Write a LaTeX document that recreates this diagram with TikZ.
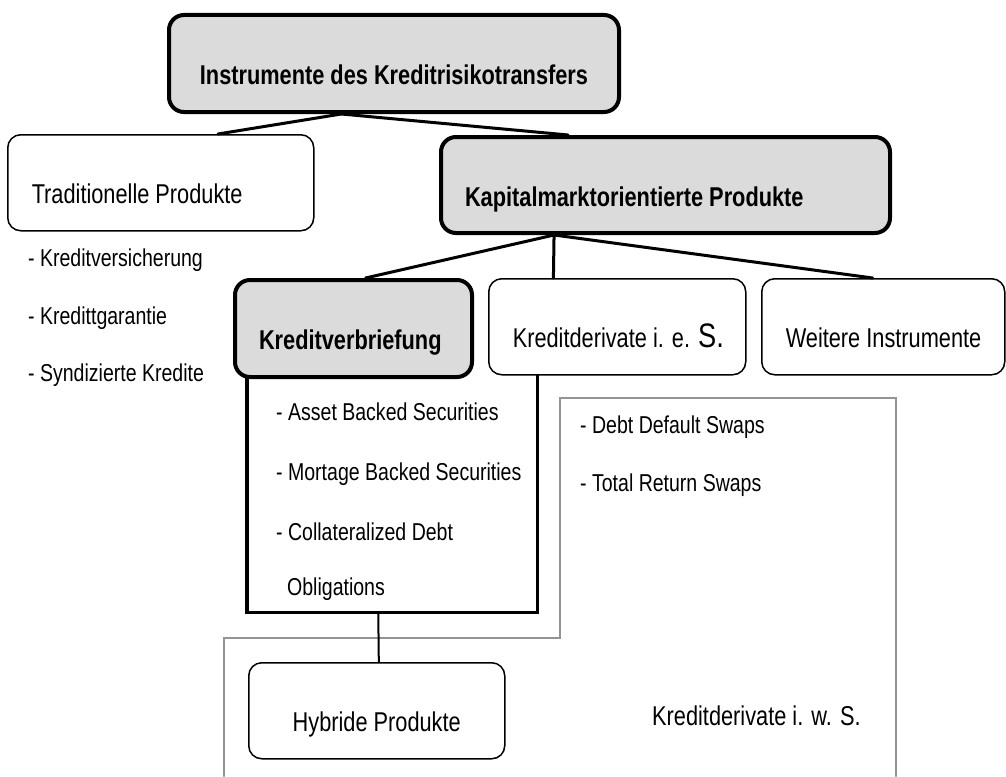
\documentclass[tikz,border=0pt]{standalone}
\usepackage{fontspec}
\setmainfont{Liberation Sans}[FakeStretch=0.8]
\usepackage{tikz}
\usetikzlibrary{calc}
\definecolor{boxgray}{rgb}{0.86,0.86,0.86}
\definecolor{framegray}{rgb}{0.58,0.58,0.58}
\newcommand{\lefttext}[2]{\makebox[#1][l]{#2}}

\tikzset{
  headbox/.style={draw, line width=4pt, rounded corners=15pt, fill=boxgray,
    font=\fontsize{27.2}{32}\selectfont\bfseries, text height=42pt, text depth=0pt,
    inner xsep=24pt, anchor=north west},
  plainbox/.style={draw, line width=1.5pt, rounded corners=13pt, fill=white,
    font=\fontsize{27.2}{32}\selectfont, text height=42pt, text depth=0pt,
    inner xsep=24pt, anchor=north west},
  listitem/.style={font=\fontsize{24.4}{29}\selectfont, text height=17.5pt, text depth=0pt,
    inner sep=0pt, anchor=west},
  link/.style={line width=3pt},
}

\begin{document}
\begin{tikzpicture}[line cap=round, line join=round, x=1pt, y=-1pt]
  \useasboundingbox (0,0) rectangle (1006,776);
  % grey frame round the Kreditderivate i. w. S.
  \draw[framegray, line width=2pt, line join=miter] (224,776) |- (560,638) |- (896,398) -- (896,776);

  % first and second level
  \node[headbox, minimum width=450pt, minimum height=97pt] (top) at (167,13) {Instrumente des Kreditrisikotransfers};
  \node[plainbox, minimum width=306pt, minimum height=96pt] (trad) at (7,134) {\lefttext{258pt}{Traditionelle Produkte}};
  \node[headbox, minimum width=449pt, minimum height=96pt] (kap) at (439,135) {\lefttext{401pt}{Kapitalmarktorientierte Produkte}};

  \foreach \txt [count=\i] in {Kreditversicherung, Kredittgarantie, Syndizierte Kredite}
    \node[listitem] (tradit\i) at (28,{258+57.5*(\i-1)}) {- \txt};

  % securitisation with its list
  \node[minimum width=290pt, minimum height=237pt, anchor=north west, inner sep=0pt] (verbrect) at (247,375) {};
  \draw[line width=3.5pt, line join=miter, line cap=butt] (verbrect.north west) -- (verbrect.south west) -- (verbrect.south east) -- (verbrect.north east);
  \node[headbox, minimum width=237pt, minimum height=97pt] (verb) at (233,278) {\lefttext{189pt}{Kreditverbriefung}};
  \node[plainbox, minimum width=257pt, minimum height=96pt] (kdes) at (488,278) {\lefttext{209pt}{Kreditderivate i. e. {\fontsize{34}{34}\selectfont S.}}};
  \node[plainbox, minimum width=243pt, minimum height=96pt] (weit) at (761,278) {\lefttext{195pt}{Weitere Instrumente}};

  \foreach \txt [count=\i] in {Asset Backed Securities, Mortage Backed Securities, Collateralized Debt}
    \node[listitem] (verbit\i) at (276,{412+60*(\i-1)}) {- \txt};
  \node[listitem] (verbit4) at (287,587) {Obligations};

  \foreach \txt [count=\i] in {Debt Default Swaps, Total Return Swaps}
    \node[listitem] (kdesit\i) at (580,{425+58*(\i-1)}) {- \txt};

  % hybrid products
  \node[plainbox, minimum width=256pt, minimum height=96pt] (hyb) at (248,662) {Hybride Produkte};
  \node[listitem, font=\fontsize{27.2}{32}\selectfont, text height=19.5pt] (kiws) at (652,716) {Kreditderivate i. w. S.};

  % connectors
  \draw[link] ($(top.south west)!0.384!(top.south east)$) -- ($(trad.north west)!0.686!(trad.north east)$);
  \draw[link] ($(top.south west)!0.384!(top.south east)$) -- ($(kap.north west)!0.285!(kap.north east)$);
  \draw[link] ($(kap.south west)!0.254!(kap.south east)$) -- ($(verb.north west)!0.55!(verb.north east)$);
  \draw[link] ($(kap.south west)!0.254!(kap.south east)$) -- ($(kdes.north west)!0.253!(kdes.north east)$);
  \draw[link] ($(kap.south west)!0.254!(kap.south east)$) -- ($(weit.north west)!0.457!(weit.north east)$);
  \draw[line width=2pt] ($(verbrect.south west)!0.452!(verbrect.south east)$) -- ($(hyb.north west)!0.508!(hyb.north east)$);
\end{tikzpicture}
\end{document}
